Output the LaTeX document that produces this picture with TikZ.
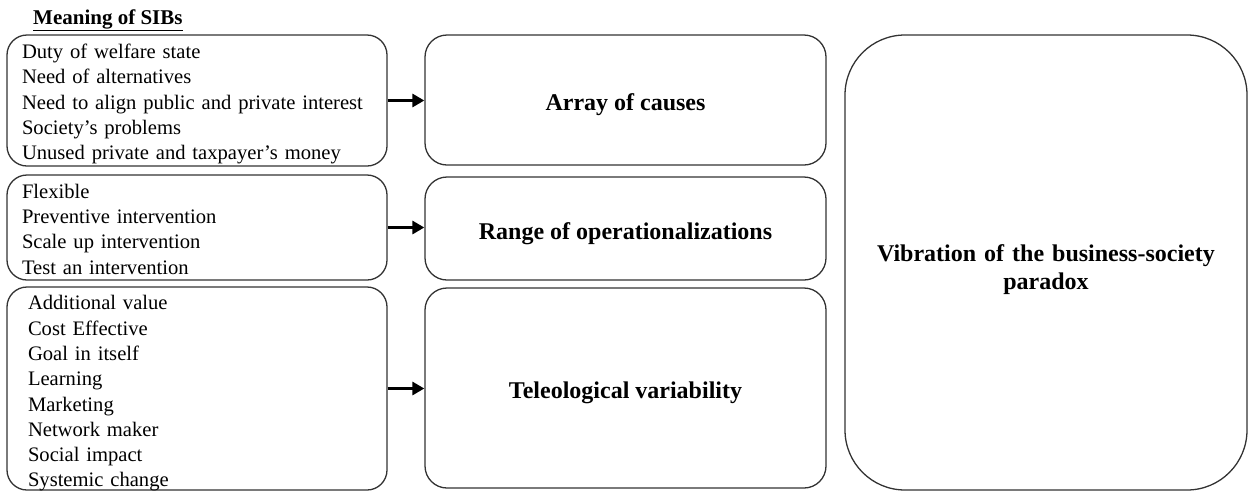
\documentclass[tikz,border=0pt]{standalone}
\usepackage{fontspec}
\setmainfont{Liberation Serif}
\usetikzlibrary{arrows.meta}

\begin{document}
\begin{tikzpicture}[x=1pt, y=-1pt,
  box/.style={draw=black!80, line width=1.3pt, inner sep=0pt},
  listbox/.style={box, rounded corners=20pt, minimum width=380pt},
  headbox/.style={box, rounded corners=22pt, minimum width=401pt},
  listtext/.style={inner sep=0pt, align=left, font=\fontsize{20.6}{25.3}\selectfont},
  headtext/.style={inner sep=0pt, align=center, font=\fontsize{24}{28}\selectfont\bfseries},
  link/.style={line width=3.8pt, -{Triangle[length=12pt, width=13pt]}}]
\useasboundingbox (0,0) rectangle (1252,491);

% heading over the left column
\node[anchor=base west, inner sep=0pt, font=\fontsize{21}{24}\selectfont\bfseries]
  (title) at (33,24) {\underline{Meaning of SIBs}};

% left column: frames and their lists of meanings
\node[listbox, minimum height=131pt] (l1) at (197,100.5) {};
\node[listbox, minimum height=105pt] (l2) at (197,227.5) {};
\node[listbox, minimum height=203pt] (l3) at (197,388.5) {};
\node[listtext, text width=350pt] (t1) at ([yshift=-3.5pt]l1.center)
  {Duty of welfare state\\Need of alternatives\\Need to align public and private interest\\Society’s problems\\Unused private and taxpayer’s money};
\node[listtext, text width=350pt] (t2) at ([yshift=-1.5pt]l2.center)
  {Flexible\\Preventive intervention\\Scale up intervention\\Test an intervention};
\node[listtext, text width=338pt] (t3) at ([yshift=-5pt]l3.center)
  {Additional value\\Cost Effective\\Goal in itself\\Learning\\Marketing\\Network maker\\Social impact\\Systemic change};

% middle column: themes
\node[headbox, minimum height=130pt] (m1) at (625.5,100) {};
\node[headbox, minimum height=103pt] (m2) at (625.5,228.5) {};
\node[headbox, minimum height=200pt] (m3) at (625.5,388) {};
\node[headtext] (h1) at ([yshift=-5pt]m1.center) {Array of causes};
\node[headtext] (h2) at ([yshift=-5pt]m2.center) {Range of operationalizations};
\node[headtext] (h3) at ([yshift=-5pt]m3.center) {Teleological variability};

% right column: overall outcome
\node[box, rounded corners=60pt, minimum width=402pt, minimum height=455pt] (r) at (1046,262.5) {};
\node[headtext, text width=380pt] (rt) at ([yshift=-7pt]r.center)
  {Vibration of the business-society\\paradox};

% connectors
\draw[link] (l1.east) -- (l1.east -| m1.west);
\draw[link] (l2.east) -- (l2.east -| m2.west);
\draw[link] (l3.east) -- (l3.east -| m3.west);
\end{tikzpicture}
\end{document}
